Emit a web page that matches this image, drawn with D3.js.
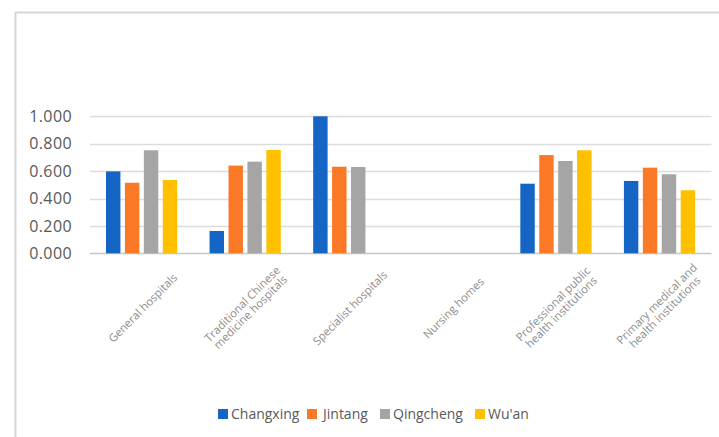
<!DOCTYPE html>
<html>
<head>
<meta charset="utf-8">
<script src="https://cdn.jsdelivr.net/npm/d3@7/dist/d3.min.js"></script>
<style>
  html, body { margin: 0; padding: 0; background: #fff; }
  svg { display: block; font-family: "Open Sans", "Noto Sans", sans-serif; }
</style>
</head>
<body>
<svg id="chart" width="719" height="437"></svg>
<script>
// Institution types along the x axis (line breaks inside labels use "\n")
const categories = [
  "General hospitals",
  "Traditional Chinese\nmedicine hospitals",
  "Specialist hospitals",
  "Nursing homes",
  "Professional public\nhealth institutions",
  "Primary medical and\nhealth institutions"
];
const seriesNames = ["Changxing", "Jintang", "Qingcheng", "Wu'an"];
const changxing = [0.598, 0.163, 1.000, 0, 0.508, 0.528];
const jintang   = [0.515, 0.640, 0.632, 0, 0.717, 0.625];
const qingcheng = [0.752, 0.669, 0.630, 0, 0.674, 0.577];
const wuan      = [0.535, 0.754, 0,     0, 0.752, 0.460];
const yTicks = [0, 0.2, 0.4, 0.6, 0.8, 1.0];
const colors = ["#1565c4", "#fb7826", "#a5a5a5", "#ffc000"];

const seriesValues = [changxing, jintang, qingcheng, wuan];

const svg = d3.select("#chart");

// outer frame (top and left edges visible)
svg.append("line").attr("x1", 15).attr("x2", 719).attr("y1", 12.5).attr("y2", 12.5)
  .attr("stroke", "#d6d6d6").attr("stroke-width", 2);
svg.append("line").attr("x1", 15.5).attr("x2", 15.5).attr("y1", 12).attr("y2", 437)
  .attr("stroke", "#d6d6d6").attr("stroke-width", 2);

const x0 = d3.scaleBand().domain(d3.range(categories.length)).range([90, 711.5]).paddingInner(0).paddingOuter(0);
const x1 = d3.scaleBand().domain(seriesNames).range([16, 87.2]).paddingInner(0.238).paddingOuter(0);
const y = d3.scaleLinear().domain([0, 1]).range([253.3, 116.3]);

// gridlines
svg.append("g").selectAll("line").data(yTicks).join("line")
  .attr("x1", 90).attr("x2", 711.5)
  .attr("y1", d => Math.round(y(d)) + 0.5).attr("y2", d => Math.round(y(d)) + 0.5)
  .attr("stroke", d => d === 0 ? "#c8c8c8" : "#dcdcdc")
  .attr("stroke-width", 1.3);

// y axis labels
const yAxis = d3.axisLeft(y).tickValues(yTicks).tickFormat(d3.format(".3f")).tickSize(0).tickPadding(0);
const yg = svg.append("g").attr("transform", "translate(72,0)").call(yAxis);
yg.select(".domain").remove();
yg.selectAll("text").attr("font-size", 16).attr("fill", "#595959")
  .attr("letter-spacing", 0.4)
  .attr("font-family", "'Open Sans', sans-serif");

// bars
const groups = svg.append("g").selectAll("g").data(categories.map((c, i) => i)).join("g")
  .attr("transform", i => `translate(${x0(i)},0)`);
groups.selectAll("rect")
  .data(i => seriesNames.map((s, k) => ({ s, k, v: seriesValues[k][i] })))
  .join("rect")
  .attr("x", d => x1(d.s))
  .attr("width", x1.bandwidth())
  .attr("y", d => y(d.v))
  .attr("height", d => y(0) - y(d.v))
  .attr("fill", d => colors[d.k]);

// rotated category labels
const lab = svg.append("g").selectAll("g").data(categories).join("g")
  .attr("transform", (c, i) => `translate(${x0(i) + x0.bandwidth() / 2 + 1},308) rotate(-45)`);
lab.each(function(c) {
  const lines = c.split("\n");
  const lh = 11.5;
  const t = d3.select(this).append("text")
    .attr("text-anchor", "middle")
    .attr("font-size", 11.3)
    .attr("fill", "#8c8c8c");
  lines.forEach((ln, j) => {
    t.append("tspan").attr("x", 0)
      .attr("y", (j - (lines.length - 1) / 2) * lh + 4)
      .text(ln);
  });
});

// legend
const legendX = [218, 307, 380, 475];
const leg = svg.append("g").selectAll("g").data(seriesNames).join("g")
  .attr("transform", (s, k) => `translate(${legendX[k]},409)`);
leg.append("rect").attr("width", 10).attr("height", 10).attr("fill", (s, k) => colors[k]);
leg.append("text").attr("x", (s, k) => k === 1 ? 16 : 13).attr("y", 10)
  .attr("font-size", 14).attr("fill", "#595959").text(s => s);
</script>
</body>
</html>
